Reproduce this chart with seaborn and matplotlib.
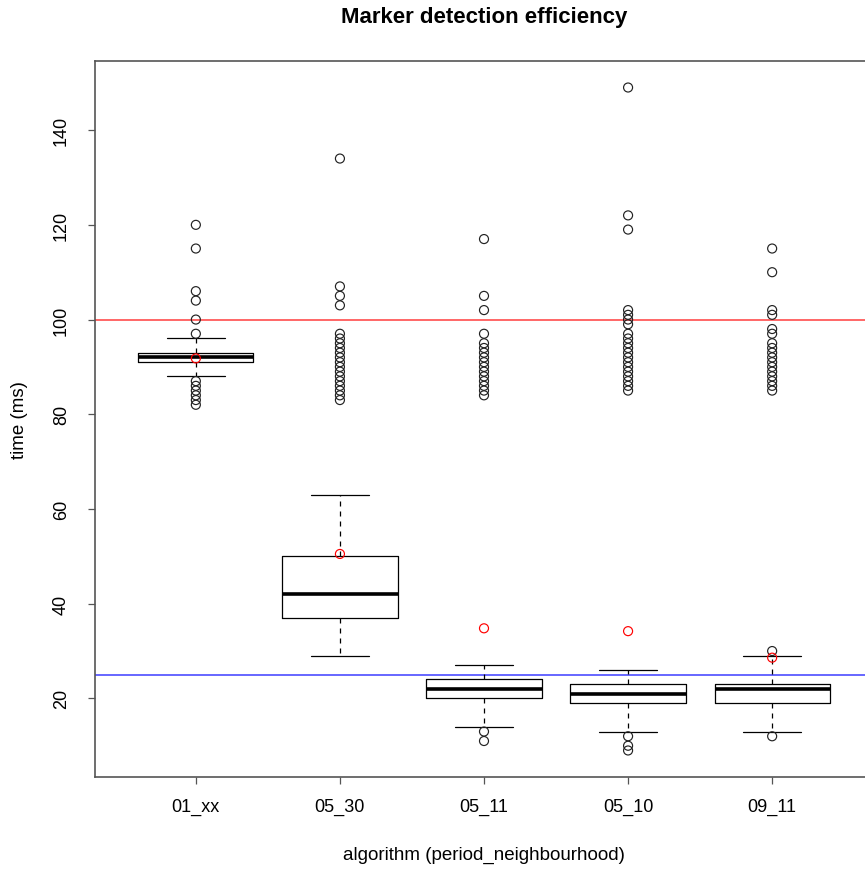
import matplotlib
matplotlib.use("Agg")
import matplotlib.pyplot as plt
import seaborn as sns
import pandas as pd

# ---- data ----
algorithms = ["01_xx", "05_30", "05_11", "05_10", "09_11"]
whisker_low = [88, 29, 14, 13, 13]
q1 = [91, 37, 20, 19, 19]
median = [92, 42, 22, 21, 22]
q3 = [93, 50, 24, 23, 23]
whisker_high = [96, 63, 27, 26, 29]
means = [91.8, 50.5, 34.8, 34.2, 28.6]

outliers_01_xx = [82, 83, 84, 85, 86, 87, 97, 100, 104, 106, 115, 120]
outliers_05_30 = [83, 84, 85, 86, 87, 88, 89, 90, 91, 92, 93, 94, 95, 96, 97,
                  103, 105, 107, 134]
outliers_05_11 = [11, 13, 84, 85, 86, 87, 88, 89, 90, 91, 92, 93, 94, 95,
                  97, 102, 105, 117]
outliers_05_10 = [9, 10, 12, 85, 86, 87, 88, 89, 90, 91, 92, 93, 94, 95, 96,
                  97, 99, 100, 101, 102, 119, 122, 149]
outliers_09_11 = [12, 30, 85, 86, 87, 88, 89, 90, 91, 92, 93, 94, 95, 97, 98,
                  101, 102, 110, 115]

reference_high = 100
reference_low = 25
y_ticks = [20, 40, 60, 80, 100, 120, 140]

# ---- styling ----
sns.set_style("white")
plt.rcParams["font.family"] = ["Liberation Sans", "DejaVu Sans"]
plt.rcParams["text.color"] = "black"
plt.rcParams["axes.labelcolor"] = "black"

fig = plt.figure(figsize=(8.65, 8.70), dpi=100)
ax = fig.add_axes([95 / 865, 1 - 778 / 870, 778 / 865, 716 / 870])

positions = list(range(len(algorithms)))
outlier_lists = [outliers_01_xx, outliers_05_30, outliers_05_11,
                 outliers_05_10, outliers_09_11]

stats = []
for i, name in enumerate(algorithms):
    stats.append(dict(label=name, whislo=whisker_low[i], q1=q1[i],
                      med=median[i], q3=q3[i], whishi=whisker_high[i],
                      fliers=[]))

ax.bxp(stats, positions=positions, widths=0.8, capwidths=0.4,
       showfliers=False, patch_artist=False,
       boxprops=dict(color="black", lw=0.9),
       medianprops=dict(color="black", lw=2.6, solid_capstyle="butt"),
       whiskerprops=dict(color="black", lw=0.9, linestyle=(0, (4, 4))),
       capprops=dict(color="black", lw=0.9))

# outliers
rows = []
for i, name in enumerate(algorithms):
    for v in outlier_lists[i]:
        rows.append({"pos": positions[i], "time": v})
out_df = pd.DataFrame(rows)
sns.scatterplot(data=out_df, x="pos", y="time", ax=ax, marker="o",
                s=42, facecolor="none", edgecolor="#222222", linewidth=0.85,
                zorder=3)

# means
mean_df = pd.DataFrame({"pos": positions, "time": means})
sns.scatterplot(data=mean_df, x="pos", y="time", ax=ax, marker="o",
                s=42, facecolor="none", edgecolor="red", linewidth=0.85,
                zorder=4)

ax.axhline(reference_high, color="#ff4d4d", lw=1.2, zorder=1)
ax.axhline(reference_low, color="#4d4dff", lw=1.2, zorder=1)

ax.set_xlim(-0.7, 4.7)
ax.set_ylim(3.4, 154.6)
ax.set_xticks(positions)
ax.set_xticklabels(algorithms)
ax.set_yticks(y_ticks)
ax.set_yticklabels([str(t) for t in y_ticks])

for side in ["left", "right", "top", "bottom"]:
    ax.spines[side].set_visible(True)
    ax.spines[side].set_color("#555555")
    ax.spines[side].set_linewidth(1.2)

ax.tick_params(axis="both", which="major", direction="out", length=5,
               width=0.9, color="#555555", labelsize=13, labelcolor="black",
               left=True, bottom=True)
ax.tick_params(axis="x", pad=10)
ax.tick_params(axis="y", pad=13, labelrotation=90)
for lab in ax.get_yticklabels():
    lab.set_va("center")

ax.set_xlabel("algorithm (period_neighbourhood)", fontsize=13.5)
ax.set_ylabel("time (ms)", fontsize=13.5)
ax.xaxis.set_label_coords(0.5, -(855 - 778) / 716)
ax.yaxis.set_label_coords(-(95 - 19) / 778, 0.5)
ax.xaxis.label.set_va("center")
ax.yaxis.label.set_va("center")

fig.text(484 / 865, 1 - 18 / 870, "Marker detection efficiency",
         fontsize=16, fontweight="bold", ha="center", va="center")

fig.savefig("out.png", dpi=100)
